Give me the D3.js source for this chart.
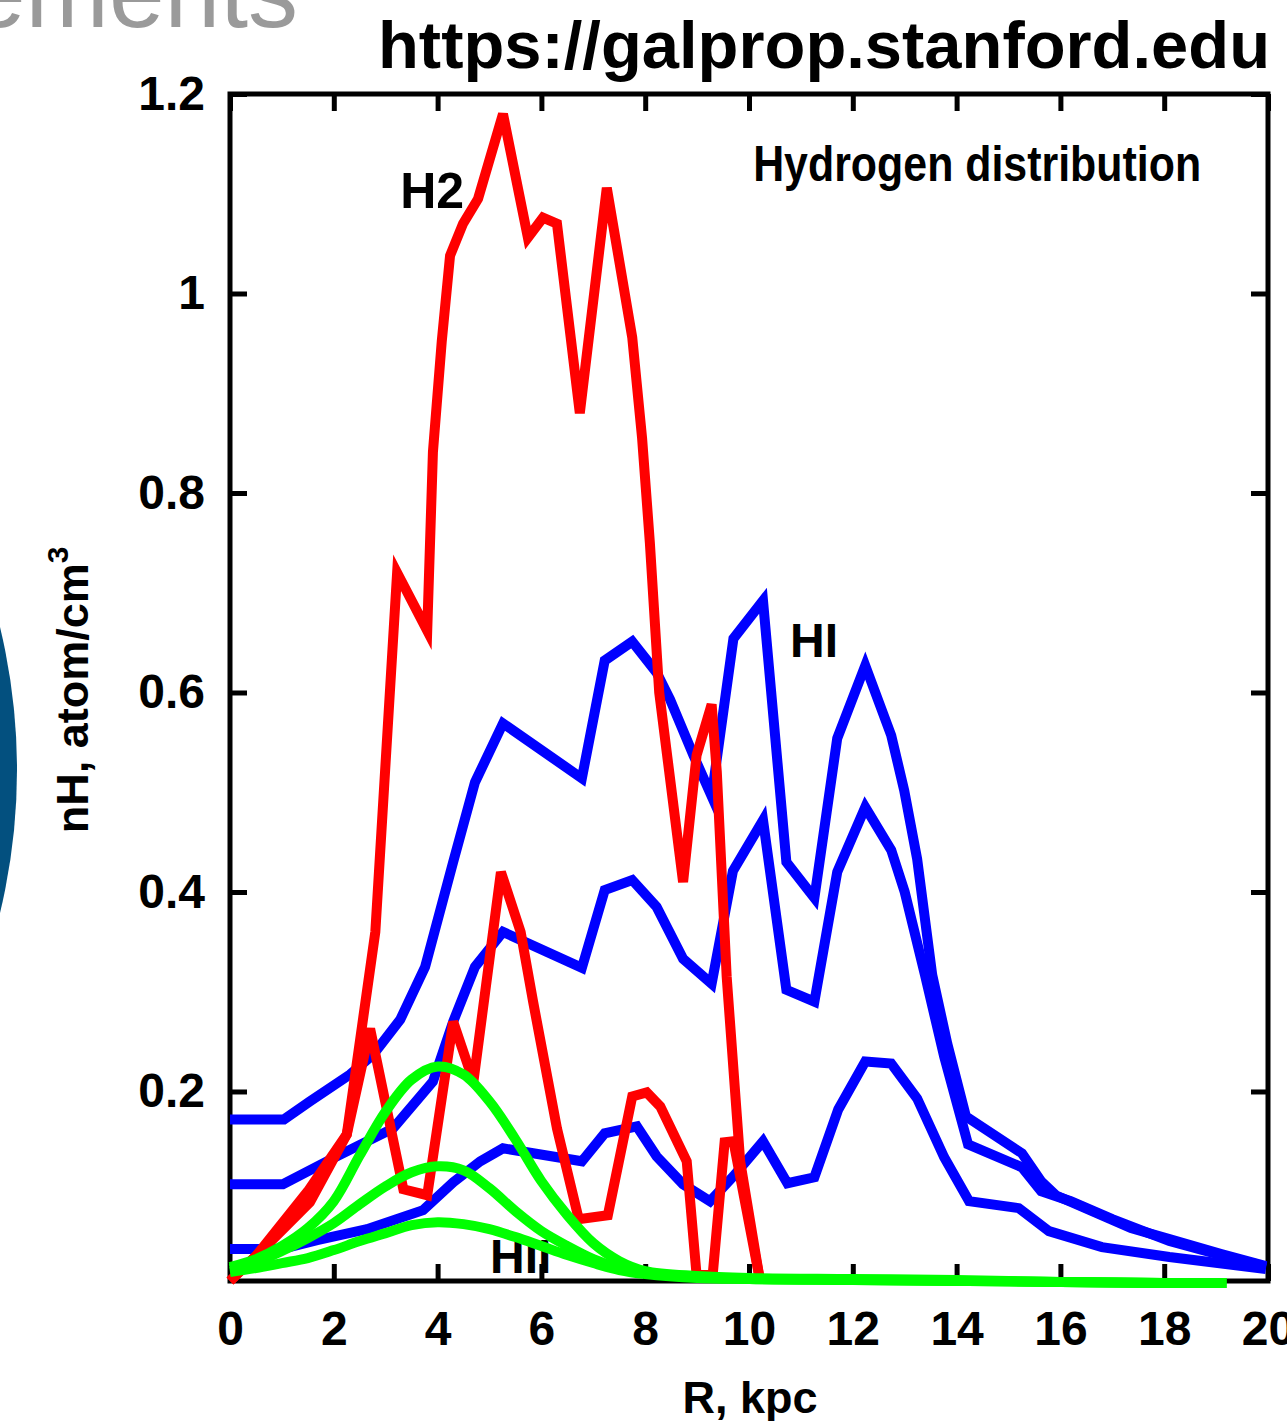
<!DOCTYPE html>
<html>
<head>
<meta charset="utf-8">
<script src="https://cdn.jsdelivr.net/npm/d3@7"></script>
<style>
  html, body { margin: 0; padding: 0; background: #fff; }
  svg { display: block; }
</style>
</head>
<body>
<svg id="chart"></svg>
<script>
const width = 1287;
const height = 1421;

// axis ticks
const xTicks = [0, 2, 4, 6, 8, 10, 12, 14, 16, 18, 20];
const yTicks = [0.2, 0.4, 0.6, 0.8, 1.0, 1.2];
const yTickLabels = ["0.2", "0.4", "0.6", "0.8", "1", "1.2"];

// H2, two model curves (R in kpc, density in atom/cm3)
const h2aR = [0, 0.5, 1.5, 2.25, 2.8, 3.22, 3.8, 3.91, 4.08, 4.24, 4.49, 4.78, 5.26, 5.74, 6.03, 6.3, 6.74, 7.26, 7.75, 7.94, 8.09, 8.27, 8.73, 8.99, 9.28, 9.38, 9.57, 9.83, 10.2];
const h2aN = [0.01, 0.035, 0.1, 0.157, 0.36, 0.72, 0.662, 0.841, 0.952, 1.038, 1.07, 1.095, 1.18, 1.056, 1.076, 1.07, 0.88, 1.106, 0.956, 0.855, 0.75, 0.6, 0.41, 0.537, 0.588, 0.52, 0.315, 0.13, 0.014];
const h2bR = [0, 0.6, 1.54, 2.25, 2.7, 3.34, 3.8, 4.3, 4.69, 5.22, 5.6, 5.84, 6.3, 6.72, 7.28, 7.75, 8.03, 8.29, 8.8, 8.99, 9.3, 9.53, 9.7, 10.2];
const h2bN = [0.01, 0.04, 0.089, 0.157, 0.263, 0.102, 0.096, 0.27, 0.21, 0.42, 0.36, 0.29, 0.163, 0.072, 0.076, 0.195, 0.199, 0.185, 0.13, 0.016, 0.016, 0.149, 0.15, 0.014];

// HI, three model curves
const hiAR = [0, 1.04, 1.54, 2.31, 2.76, 3.28, 3.76, 4.3, 4.72, 5.26, 6.78, 7.22, 7.75, 8.22, 8.48, 8.93, 9.28, 9.7, 10.27, 10.72, 11.26, 11.7, 12.24, 12.74, 12.99, 13.24, 13.53, 13.82, 14.18, 15.26, 15.63, 15.91, 17.36, 18.1, 19.1, 19.96];
const hiAN = [0.172, 0.172, 0.19, 0.217, 0.237, 0.272, 0.325, 0.43, 0.51, 0.569, 0.514, 0.632, 0.651, 0.62, 0.593, 0.537, 0.496, 0.654, 0.692, 0.43, 0.394, 0.554, 0.627, 0.557, 0.502, 0.433, 0.317, 0.248, 0.175, 0.138, 0.11, 0.096, 0.063, 0.052, 0.037, 0.025];
const hiBR = [0, 1.02, 1.98, 3.14, 3.91, 4.3, 4.72, 5.26, 6.78, 7.22, 7.75, 8.22, 8.73, 9.28, 9.69, 10.27, 10.72, 11.26, 11.7, 12.24, 12.74, 13.0, 13.39, 13.76, 14.22, 15.26, 15.63, 16.2, 17.0, 18.1, 19.1, 19.96];
const hiBN = [0.107, 0.107, 0.133, 0.163, 0.21, 0.27, 0.325, 0.36, 0.324, 0.402, 0.412, 0.385, 0.333, 0.308, 0.421, 0.472, 0.302, 0.29, 0.42, 0.485, 0.442, 0.4, 0.317, 0.235, 0.147, 0.124, 0.1, 0.09, 0.072, 0.05, 0.036, 0.024];
const hiCR = [0, 1.0, 1.68, 2.64, 3.72, 4.3, 4.82, 5.26, 6.78, 7.22, 7.84, 8.22, 8.73, 9.25, 9.7, 10.27, 10.74, 11.26, 11.72, 12.24, 12.74, 13.24, 13.76, 14.24, 15.2, 15.78, 16.8, 18.1, 19.96];
const hiCN = [0.042, 0.042, 0.051, 0.062, 0.081, 0.109, 0.13, 0.143, 0.13, 0.158, 0.165, 0.135, 0.107, 0.09, 0.115, 0.15, 0.108, 0.114, 0.182, 0.23, 0.228, 0.193, 0.134, 0.09, 0.083, 0.06, 0.044, 0.034, 0.022];

// HII, three model curves (same R grid)
const hiiR = [0, 0.5, 1, 1.5, 2, 2.5, 3, 3.5, 4, 4.5, 5, 5.5, 6, 6.5, 7, 7.5, 8, 9, 10, 12, 14, 16, 18, 19.2];
const hiiAN = [0.024, 0.032, 0.045, 0.063, 0.09, 0.136, 0.18, 0.212, 0.225, 0.217, 0.19, 0.152, 0.11, 0.076, 0.048, 0.03, 0.02, 0.015, 0.013, 0.012, 0.011, 0.009, 0.008, 0.008];
const hiiBN = [0.022, 0.029, 0.04, 0.053, 0.068, 0.087, 0.105, 0.119, 0.125, 0.121, 0.103, 0.08, 0.06, 0.045, 0.032, 0.023, 0.018, 0.014, 0.012, 0.011, 0.01, 0.009, 0.008, 0.008];
const hiiCN = [0.019, 0.023, 0.028, 0.033, 0.041, 0.05, 0.058, 0.066, 0.069, 0.067, 0.062, 0.054, 0.045, 0.036, 0.028, 0.021, 0.017, 0.013, 0.012, 0.011, 0.01, 0.009, 0.008, 0.008];

const font = "'Liberation Sans', Arial, Helvetica, sans-serif";

const svg = d3.select("#chart")
    .attr("width", width)
    .attr("height", height)
    .attr("viewBox", `0 0 ${width} ${height}`);

// decoration from the page the chart was cut from
svg.append("circle")
    .attr("cx", -593)
    .attr("cy", 770)
    .attr("r", 610)
    .attr("fill", "#03507f");

svg.append("text")
    .attr("x", -30)
    .attr("y", 27)
    .style("font-family", font)
    .style("font-size", "100px")
    .attr("fill", "#9a9a9a")
    .text("ements");

svg.append("text")
    .attr("x", 378)
    .attr("y", 68)
    .style("font-family", font)
    .style("font-weight", "bold")
    .style("font-size", "66px")
    .attr("textLength", 892)
    .attr("lengthAdjust", "spacingAndGlyphs")
    .text("https://galprop.stanford.edu");

const x = d3.scaleLinear().domain([0, 20]).range([230, 1268]);
const y = d3.scaleLinear().domain([0.01, 1.2]).range([1281, 94]);

// axes with inward ticks on all four sides
const tickLen = 17;

const gx = svg.append("g")
    .attr("transform", `translate(0,${y(0.01)})`)
    .call(d3.axisBottom(x).tickValues(xTicks).tickSize(-tickLen).tickPadding(30).tickFormat(d3.format("d")));

const gy = svg.append("g")
    .attr("transform", `translate(${x(0)},0)`)
    .call(d3.axisLeft(y).tickValues(yTicks).tickSize(-tickLen).tickPadding(25)
        .tickFormat((d, i) => yTickLabels[i]));

const gTop = svg.append("g")
    .attr("transform", `translate(0,${y(1.2)})`)
    .call(d3.axisTop(x).tickValues(xTicks).tickSize(-tickLen).tickFormat(""));

const gRight = svg.append("g")
    .attr("transform", `translate(${x(20)},0)`)
    .call(d3.axisRight(y).tickValues(yTicks).tickSize(-tickLen).tickFormat(""));

[gx, gy, gTop, gRight].forEach(g => {
    g.select(".domain").remove();
    g.selectAll(".tick line").attr("stroke", "#000").attr("stroke-width", 5);
    g.selectAll(".tick text")
        .attr("fill", "#000")
        .style("font-family", font)
        .style("font-weight", "bold")
        .style("font-size", "48px");
});

svg.append("rect")
    .attr("x", x(0))
    .attr("y", y(1.2))
    .attr("width", x(20) - x(0))
    .attr("height", y(0.01) - y(1.2))
    .attr("fill", "none")
    .attr("stroke", "#000")
    .attr("stroke-width", 5);

// axis titles
svg.append("text")
    .attr("x", 750)
    .attr("y", 1413)
    .attr("text-anchor", "middle")
    .style("font-family", font)
    .style("font-weight", "bold")
    .style("font-size", "45px")
    .text("R, kpc");

const yTitle = svg.append("text")
    .attr("transform", "translate(88,690) rotate(-90)")
    .attr("text-anchor", "middle")
    .style("font-family", font)
    .style("font-weight", "bold")
    .style("font-size", "45px");
yTitle.append("tspan").text("nH, atom/cm");
yTitle.append("tspan")
    .attr("dy", -20)
    .style("font-size", "30px")
    .text("3");

// labels inside the plot
function label(txt, r, n, size, len) {
    const t = svg.append("text")
        .attr("x", x(r))
        .attr("y", y(n))
        .style("font-family", font)
        .style("font-weight", "bold")
        .style("font-size", size + "px")
        .text(txt);
    if (len) t.attr("textLength", len).attr("lengthAdjust", "spacingAndGlyphs");
}

label("Hydrogen distribution", 10.08, 1.113, 50, 448);
label("H2", 3.28, 1.086, 50);
label("HI", 10.79, 0.636, 48);
label("HII", 5.01, 0.018, 48);

// curves
const line = d3.line()
    .x(d => x(d[0]))
    .y(d => y(d[1]));

const smooth = d3.line()
    .curve(d3.curveCatmullRom)
    .x(d => x(d[0]))
    .y(d => y(d[1]));

function drawSeries(rs, ns, color, gen) {
    svg.append("path")
        .datum(rs.map((r, i) => [r, ns[i]]))
        .attr("d", gen)
        .attr("fill", "none")
        .attr("stroke", color)
        .attr("stroke-width", 10)
        .attr("stroke-linejoin", "miter");
}

drawSeries(hiAR, hiAN, "#0000ff", line);
drawSeries(hiBR, hiBN, "#0000ff", line);
drawSeries(hiCR, hiCN, "#0000ff", line);

drawSeries(h2aR, h2aN, "#ff0000", line);
drawSeries(h2bR, h2bN, "#ff0000", line);

drawSeries(hiiR, hiiAN, "#00ff00", smooth);
drawSeries(hiiR, hiiBN, "#00ff00", smooth);
drawSeries(hiiR, hiiCN, "#00ff00", smooth);
</script>
</body>
</html>
